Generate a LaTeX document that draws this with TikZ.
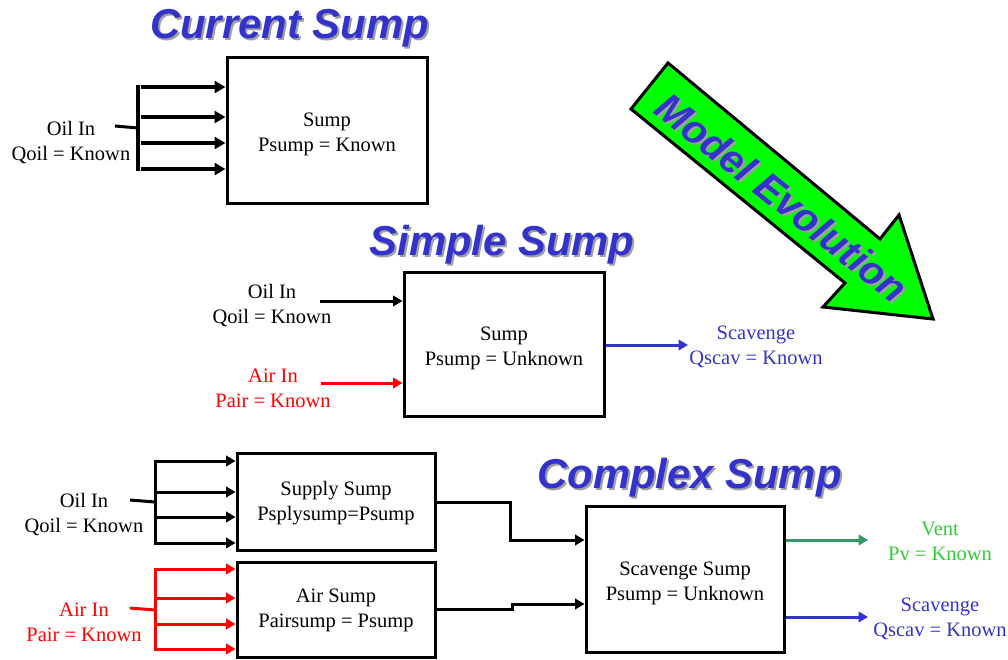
\documentclass[tikz,border=0pt]{standalone}
\usepackage{fontspec}
\setmainfont{Liberation Serif}
\newfontfamily\titlefont{Liberation Sans}
\usetikzlibrary{arrows.meta}
\definecolor{tblue}{HTML}{3333CC}
\definecolor{tshadow}{HTML}{A0A0A0}
\definecolor{ventline}{HTML}{339966}
\definecolor{venttext}{HTML}{33CC33}
\definecolor{evgreen}{HTML}{00FF00}
\tikzset{
  box/.style={draw, line width=3pt, inner sep=0pt},
  lbl/.style={align=center, font=\fontsize{20.5}{25}\selectfont, inner sep=0pt},
  ttl/.style={font=\titlefont\bfseries\itshape\fontsize{41.8}{46}\selectfont, text=tblue, inner sep=0pt},
  ttlsh/.style={font=\titlefont\bfseries\itshape\fontsize{41.8}{46}\selectfont, text=tshadow, inner sep=0pt},
  evo/.style={font=\titlefont\bfseries\itshape\fontsize{40}{44}\selectfont, inner sep=0pt, rotate=-38.5},
  arr/.style={line width=3pt, -{Triangle[length=9.5pt,width=10.5pt]}},
  barr/.style={line width=4pt, -{Triangle[length=11pt,width=12pt]}},
  ln/.style={line width=3pt},
}
\begin{document}
\begin{tikzpicture}[x=1pt,y=-1pt]
\useasboundingbox (0,0) rectangle (1008,659);
% ---------------- titles ----------------
\node[ttlsh] at (291.5,30.5) {Current Sump};
\node[ttl] (t1) at (289.5,28.5) {Current Sump};
\node[ttlsh] at (504,246.5) {Simple Sump};
\node[ttl] (t2) at (502,244.5) {Simple Sump};
\node[ttlsh] at (691.5,479.5) {Complex Sump};
\node[ttl] (t3) at (689.5,477.5) {Complex Sump};
% ---------------- model evolution arrow ----------------
\draw[line width=3pt, fill=evgreen, line join=miter]
  (668,63) -- (880,239) -- (899,215) -- (933,319) -- (823,307) -- (845,283) -- (631,109) -- cycle;
\node[evo, text=tshadow] at (784,199.5) {Model Evolution};
\node[evo, text=tblue] (me) at (782,197.5) {Model Evolution};
% ---------------- current sump ----------------
\node[box, minimum width=200, minimum height=146] (b1) at (327,130) {};
\node[lbl] (b1t) at ([yshift=-4pt]b1.center) {Sump\\Psump = Known};
\node[lbl] (l1) at (71,142.5) {Oil In\\Qoil = Known};
\coordinate (bar1t) at (138,85);
\coordinate (bar1b) at (138,171);
\draw[line width=4pt] (bar1t) -- (bar1b);
\coordinate (l1e) at (115,126);
\coordinate (l1b) at (138,128);
\draw[ln] (l1e) -- (l1b);
\foreach \yy in {87,117,143,169}{
  \draw[barr] (141,\yy) -- (b1.west |- 0,\yy);
}
% ---------------- simple sump ----------------
\node[box, minimum width=200, minimum height=144] (b2) at (504,344) {};
\node[lbl] (b2t) at ([yshift=-4pt]b2.center) {Sump\\Psump = Unknown};
\node[lbl] (l2) at (272,306) {Oil In\\Qoil = Known};
\node[lbl, text=red] (l3) at (273,388) {Air In\\Pair = Known};
\node[lbl, text=tblue] (l4) at (756,347) {Scavenge\\Qscav = Known};
\coordinate (o2s) at (320,301);
\coordinate (a2s) at (321,383);
\draw[arr] (o2s) -- (b2.west |- o2s);
\draw[arr, red] (a2s) -- (b2.west |- a2s);
\coordinate (s2e) at (688,345);
\draw[arr, tblue] (b2.east |- s2e) -- (s2e);
% ---------------- complex sump ----------------
\node[box, minimum width=198, minimum height=97] (sup) at (336,501.5) {};
\node[lbl] (supt) at ([yshift=-1.5pt]sup.center) {Supply Sump\\Psplysump=Psump};
\node[box, minimum width=198, minimum height=95] (air) at (336,609.5) {};
\node[lbl] (airt) at ([yshift=-0.5pt]air.center) {Air Sump\\Pairsump = Psump};
\node[box, minimum width=198, minimum height=146] (scv) at (685,579) {};
\node[lbl] (scvt) at ([yshift=-4pt]scv.center) {Scavenge Sump\\Psump = Unknown};
\node[lbl] (l5) at (84,514.5) {Oil In\\Qoil = Known};
\node[lbl, text=red] (l6) at (84,622.5) {Air In\\Pair = Known};
\node[lbl, text=venttext] (l7) at (940,541) {Vent\\Pv = Known};
\node[lbl, text=tblue] (l8) at (940,618.5) {Scavenge\\Qscav = Known};
% oil bar
\draw[ln] (155,459.5) -- (155,544.5);
\draw[ln] (130,500) -- (155,502);
\foreach \yy in {461,492,517,543}{
  \draw[arr] (155,\yy) -- (sup.west |- 0,\yy);
}
% air bar
\draw[ln, red] (155,567.5) -- (155,650.5);
\draw[ln, red] (130,608) -- (155,610);
\foreach \yy in {569,598,624,649}{
  \draw[arr, red] (155,\yy) -- (air.west |- 0,\yy);
}
% connections into scavenge sump
\draw[arr] (sup.east |- 0,502) -- (510,502) -- (510,540) -- (scv.west |- 0,540);
\draw[arr] (air.east |- 0,609) -- (512,609) -- (512,604) -- (scv.west |- 0,604);
% outputs
\coordinate (ve) at (868,540);
\coordinate (se) at (868,617);
\draw[arr, ventline] (scv.east |- ve) -- (ve);
\draw[arr, tblue] (scv.east |- se) -- (se);
\end{tikzpicture}
\end{document}
